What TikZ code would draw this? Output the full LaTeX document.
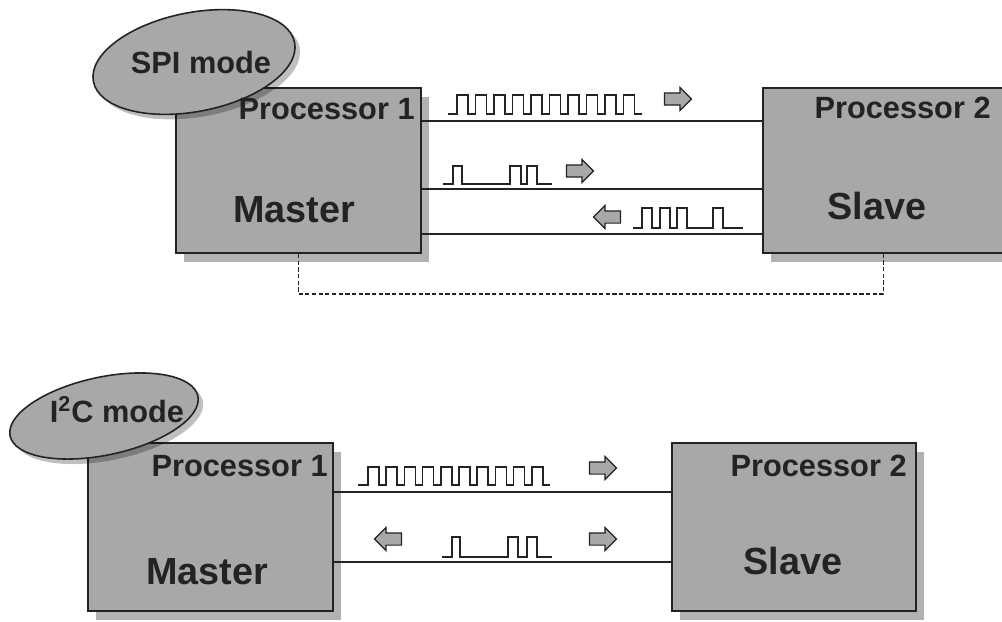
\documentclass[tikz,border=0pt]{standalone}
\usepackage{fontspec}
\setmainfont{Liberation Sans}
\usetikzlibrary{shapes.geometric,shapes.arrows,shadows}

\definecolor{boxgray}{RGB}{168,168,168}
\definecolor{inkgray}{RGB}{35,35,35}

\begin{document}
\begin{tikzpicture}[
        x=0.02cm,   % 1 px of the sketch = 0.02cm
        y=-0.02cm,  % y runs downwards, like the sketch
        procbox/.style={draw=inkgray, line width=1.1pt, fill=boxgray, inner sep=0pt,
            drop shadow={shadow xshift=0.16cm, shadow yshift=-0.18cm, fill=black, opacity=0.3}},
        modeshape/.style={ellipse, draw=inkgray, line width=0.9pt, fill=boxgray, inner sep=0pt,
            drop shadow={shadow xshift=0.1cm, shadow yshift=-0.1cm, fill=black, opacity=0.25}},
        smalllabel/.style={font=\fontsize{17.5}{20}\selectfont\bfseries, text=inkgray, inner sep=0pt},
        biglabel/.style={font=\fontsize{21.5}{25}\selectfont\bfseries, text=inkgray, inner sep=0pt},
        bus/.style={draw=inkgray, line width=0.9pt},
        wave/.style={draw=inkgray, line width=1pt},
        linkdash/.style={draw=inkgray, line width=1pt, dash pattern=on 2.4pt off 1.4pt},
        rightarrow/.style={single arrow, draw=inkgray, fill=boxgray, line width=0.7pt,
            inner xsep=0pt, inner ysep=0.11cm, text height=0pt, text depth=0pt,
            minimum height=0.54cm, single arrow head extend=0.11cm},
        leftarrow/.style={rightarrow, shape border rotate=180},
    ]

    \useasboundingbox (0,0) rectangle (1002,622);

    % ---------------- SPI mode ----------------
    \node[procbox, minimum width=4.9cm, minimum height=3.3cm] (master1) at (298.5,170.5) {};
    \node[procbox, minimum width=4.82cm, minimum height=3.3cm] (slave1) at (883.5,170.5) {};

    \node[modeshape, minimum width=4.1cm, minimum height=1.98cm, rotate=11] (spi) at (194,62) {};
    \node[smalllabel] (spitext) at (201,63) {SPI mode};

    \node[smalllabel, anchor=east] (proc11) at (415,109) {Processor 1};
    \node[biglabel] (mastertext1) at (294,210) {Master};
    \node[smalllabel, anchor=east] (proc21) at (991,108) {Processor 2};
    \node[biglabel] (slavetext1) at (877,206) {Slave};

    % three lines between the processors
    \draw[bus] (master1.east |- 0,121) -- (slave1.west |- 0,121);
    \draw[bus] (master1.east |- 0,189) -- (slave1.west |- 0,189);
    \draw[bus] (master1.east |- 0,234) -- (slave1.west |- 0,234);

    % clock
    \draw[wave] (448,114) -- ++(9,0)
        foreach \p in {1,...,10} { -- ++(0,-19) -- ++(11,0) -- ++(0,19) -- ++(7.5,0) };
    \node[rightarrow] (clk1) at (675,99) {};

    % data out
    \draw[wave] (443,184) -| (453,166) -| (462,184) -| (510,166) -| (521,184)
        -| (527,166) -| (537,184) -- (552,184);
    \node[rightarrow] (out1) at (577,171) {};

    % data in
    \node[leftarrow] (in1) at (610,217) {};
    \draw[wave] (633,228) -| (642,208) -| (652,228) -| (660,208) -| (670,228)
        -| (677,208) -| (687,228) -| (713,208) -| (723,228) -- (743,228);

    % select line (dashed)
    \draw[linkdash] (master1.south) -- ++(0,40) -| (slave1.south);

    % ---------------- I2C mode ----------------
    \node[procbox, minimum width=4.9cm, minimum height=3.36cm] (master2) at (210.5,527) {};
    \node[procbox, minimum width=4.88cm, minimum height=3.36cm] (slave2) at (794,527) {};

    \node[modeshape, minimum width=3.84cm, minimum height=1.56cm, rotate=12] (iic) at (104,416) {};
    \node[smalllabel] (iictext) at (117,410) {I\textsuperscript{2}C mode};

    \node[smalllabel, anchor=east] (proc12) at (328,466) {Processor 1};
    \node[biglabel] (mastertext2) at (207,572) {Master};
    \node[smalllabel, anchor=east] (proc22) at (907,466) {Processor 2};
    \node[biglabel] (slavetext2) at (793,561) {Slave};

    % two lines between the processors
    \draw[bus] (master2.east |- 0,492) -- (slave2.west |- 0,492);
    \draw[bus] (master2.east |- 0,562) -- (slave2.west |- 0,562);

    % clock
    \draw[wave] (358,485) -- ++(10,0)
        foreach \p in {1,...,10} { -- ++(0,-18) -- ++(11,0) -- ++(0,18) -- ++(7.2,0) };
    \node[rightarrow] (clk2) at (600,468) {};

    % data, both ways
    \node[leftarrow] (in2) at (391,539) {};
    \draw[wave] (442,557) -| (452,537) -| (460,557) -| (508,537) -| (518,557)
        -| (527,537) -| (537,557) -- (552,557);
    \node[rightarrow] (out2) at (600,539) {};

\end{tikzpicture}
\end{document}
